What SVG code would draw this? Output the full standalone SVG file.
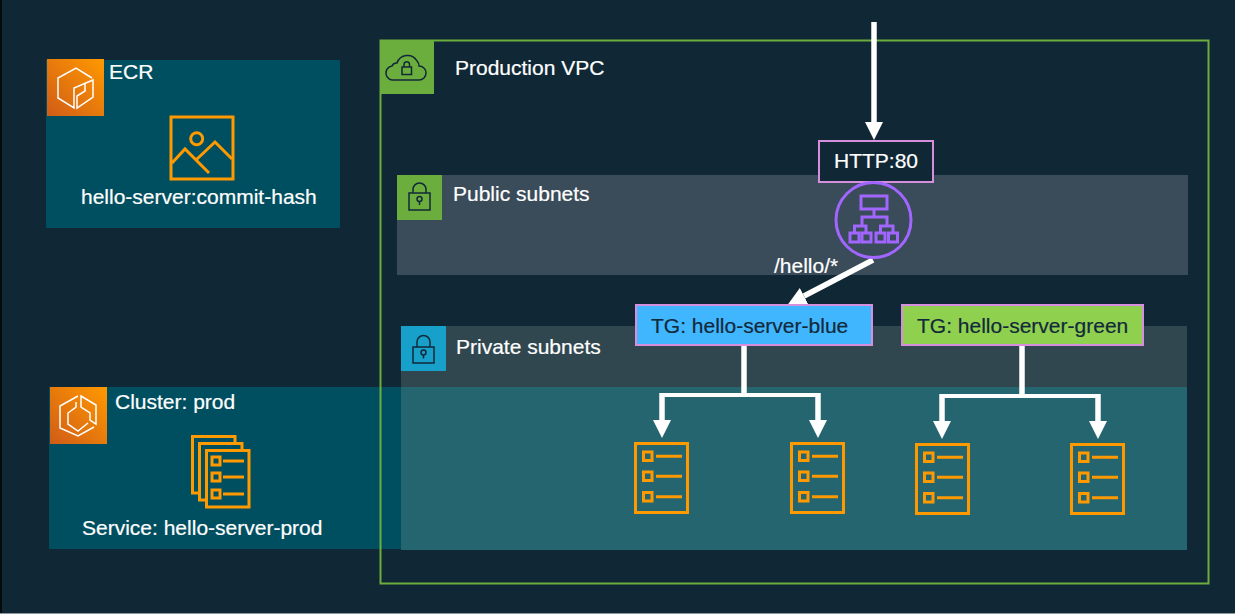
<svg xmlns="http://www.w3.org/2000/svg" width="1235" height="614" viewBox="0 0 1235 614">
<style>
text{font-family:"Liberation Sans",Arial,sans-serif;font-size:21px;fill:#fff;stroke:#fff;stroke-width:.2}
.dk{fill:#12293a;stroke:#12293a}
.o{fill:none;stroke:#f90;stroke-width:3}
.t{fill:none;stroke:#f90;stroke-width:3}
.w{fill:none;stroke:#fff;stroke-width:1.500}
.k{fill:none;stroke:#12293a;stroke-width:1.500}
.c{fill:none;stroke:#fff;stroke-width:5.500}
.h{fill:none;stroke:#fff;stroke-width:4}
.p{fill:none;stroke:#a166ff;stroke-width:3}
.b{stroke:#d68fdc;stroke-width:2}
</style>
<defs>
<marker id="a" markerUnits="userSpaceOnUse" markerWidth="18" markerHeight="18" refX="0" refY="9" orient="auto"><path d="M0 0L18 9L0 18z" fill="#fff"/></marker>
<linearGradient id="og" x1="0" y1="1" x2="1" y2="0"><stop offset="0" stop-color="#d05c17"/><stop offset="1" stop-color="#f90"/></linearGradient>
<g id="task"><rect class="o" x="1.500" y="1.500" width="52" height="69"/><rect class="t" x="9.500" y="10" width="8.500" height="8.500"/><rect class="t" x="9.500" y="30" width="8.500" height="8.500"/><rect class="t" x="9.500" y="50.500" width="8.500" height="8.500"/><path class="t" d="M22 14.200H48M22 34.200H48M22 54.700H48"/></g>
</defs>
<rect width="1235" height="614" fill="#102736"/>
<rect x="0" y="0" width="2" height="614" fill="#050a0e"/>
<rect x="0" y="613" width="1235" height="1" fill="#8a979e"/>
<g id="ecr">
<rect x="46" y="60" width="294" height="168" fill="#004f60"/>
<rect x="47" y="59" width="57" height="57" fill="url(#og)"/>
<path class="w" d="M92 78L76 68L58 78V98L74 108V88L93 80V97L77 108V96L85 91V84"/>
<text x="109" y="79">ECR</text>
<rect class="o" x="171" y="117" width="62" height="62"/>
<circle class="o" cx="196.700" cy="138.700" r="6"/>
<path class="o" d="M172 163L185 149L209 173M197 159L215 142L232 159"/>
<text x="81" y="204">hello-server:commit-hash</text>
</g>
<g id="cluster">
<rect x="49" y="387" width="352" height="162" fill="#004f60"/>
<rect x="50" y="387" width="57" height="57" fill="url(#og)"/>
<path class="w" d="M78 396L60 406V428L78 436L94 427M81 396L96 405V424L90 420V413L81 407ZM76 402V407L68 413V424L78 431L88 423"/>
<text x="115" y="409">Cluster: prod</text>
<g id="service-icon" fill="none" stroke="#f90" stroke-width="3">
<path d="M199 493H192.500V436.500H235V443"/>
<path d="M206 500H199.500V443.500H242V450"/>
<rect x="206.500" y="450.500" width="42.500" height="56.500"/>
<rect x="212" y="457" width="8" height="8"/><rect x="212" y="473" width="8" height="8"/><rect x="212" y="490" width="8" height="8"/>
<path d="M223 461H244M223 477H244M223 494H244"/>
</g>
<text x="82" y="535">Service: hello-server-prod</text>
</g>
<g id="vpc">
<rect x="380.500" y="40.500" width="828" height="543" fill="none" stroke="#6cae3e" stroke-width="2"/>
<rect x="380" y="40" width="54" height="54" fill="#6cae3e"/>
<path class="k" d="M394 80a7 7 0 0 1-2-14a5 5 0 0 1 5-3a11 11 0 0 1 20-2a7 7 0 0 1 2 5a7 7 0 0 1 0 14Z"/>
<rect class="k" x="402" y="67" width="9.500" height="7.500"/><path class="k" d="M404 67v-2.500a2.700 2.700 0 0 1 5.500 0v2.500"/>
<text x="455" y="75">Production VPC</text>
</g>
<g id="public-subnets">
<rect x="397" y="175" width="791" height="100" fill="#3a4b59"/>
<rect x="397" y="175" width="45" height="45" fill="#6cae3e"/>
<rect class="k" x="409" y="193" width="21" height="17"/><path class="k" d="M413 193v-3.500a6.500 6.500 0 0 1 13 0v3.500"/><circle class="k" cx="419.500" cy="199" r="2.500"/><path class="k" d="M419.500 201.500V205"/>
<text x="453" y="201">Public subnets</text>
</g>
<g id="private-subnets">
<rect x="401" y="326" width="786" height="61" fill="#304750"/>
<rect x="401" y="387" width="786" height="163" fill="#246570"/>
<rect x="401" y="326" width="45" height="45" fill="#17a0c9"/>
<rect class="k" x="413" y="347" width="21" height="16"/><path class="k" d="M417 347v-5a6.500 6.500 0 0 1 13 0v5"/><circle class="k" cx="423.500" cy="352.500" r="2.500"/><path class="k" d="M423.500 355V358.500"/>
<text x="456" y="354">Private subnets</text>
</g>
<g id="connectors">
<path class="c" d="M874 22V122" marker-end="url(#a)"/>
<path class="c" d="M873 260L804 296" marker-end="url(#a)"/>
<path class="c" d="M744 346V397"/>
<path class="h" d="M660 395H820"/>
<path class="c" d="M662 393V420" marker-end="url(#a)"/>
<path class="c" d="M818 393V420" marker-end="url(#a)"/>
<path class="c" d="M1022 346V398"/>
<path class="h" d="M940 396H1100"/>
<path class="c" d="M942 394V421" marker-end="url(#a)"/>
<path class="c" d="M1098 394V421" marker-end="url(#a)"/>
</g>
<g id="listener"><rect class="b" x="819" y="141" width="114" height="41" fill="#102736"/><text x="834" y="168">HTTP:80</text></g>
<g id="alb">
<circle cx="873.500" cy="220" r="37.500" fill="none" stroke="#a166ff" stroke-width="3"/>
<rect class="p" x="861" y="196" width="26" height="13"/>
<path class="p" d="M874 209V217M862 226V217H887V226M854.500 233V226H866V233M880.500 233V226H893V233"/>
<rect class="p" x="850" y="233" width="9" height="9"/><rect class="p" x="862" y="233" width="9" height="9"/><rect class="p" x="876" y="233" width="9" height="9"/><rect class="p" x="888.500" y="233" width="9" height="9"/>
</g>
<text x="774" y="273">/hello/*</text>
<g id="tg-blue"><rect class="b" x="636" y="305" width="236" height="40" fill="#40b6ff"/><text class="dk" x="651" y="333">TG: hello-server-blue</text></g>
<g id="tg-green"><rect class="b" x="902" y="305" width="241" height="40" fill="#8fd14f"/><text class="dk" x="917" y="333">TG: hello-server-green</text></g>
<use id="task-1" href="#task" x="634" y="442"/>
<use id="task-2" href="#task" x="790" y="442"/>
<use id="task-3" href="#task" x="915" y="443"/>
<use id="task-4" href="#task" x="1070" y="443"/>
</svg>
